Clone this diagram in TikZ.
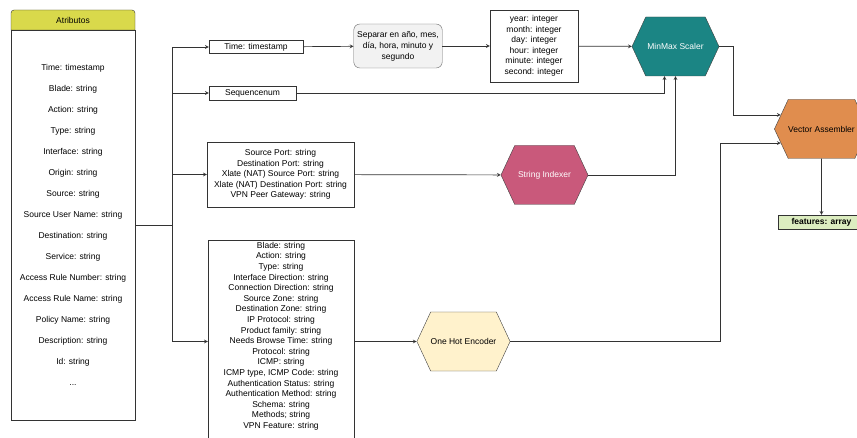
\documentclass[tikz,border=0pt]{standalone}
\usepackage{fontspec}
\setmainfont{Liberation Sans}
\usetikzlibrary{shapes.geometric, shapes.symbols, arrows}

\definecolor{headyellow}{HTML}{D9D94B}
\definecolor{minmaxteal}{HTML}{1B8584}
\definecolor{indexpink}{HTML}{C9597B}
\definecolor{onehotcream}{HTML}{FFF2CC}
\definecolor{assemblerorange}{HTML}{E08D4E}
\definecolor{featgreen}{HTML}{DCEDC0}

\tikzstyle{attrbox} = [rectangle, draw=black!80, minimum width=124pt, align=center, font=\fontsize{8.5}{21}\selectfont]
\tikzstyle{plainbox} = [rectangle, draw=black!80, align=center, inner sep=2pt, font=\fontsize{8.5}{10.5}\selectfont]
\tikzstyle{greybox} = [rectangle, rounded corners=6pt, draw=black!60, fill=black!5, align=center, font=\fontsize{8.5}{11}\selectfont]
\tikzstyle{hexa} = [signal, signal to=west and east, signal pointer angle=130, minimum width=87pt, minimum height=59pt, inner sep=0pt, draw=black!75, font=\fontsize{8.5}{10}\selectfont]
\tikzstyle{arrow} = [->,>=stealth, draw=black!80, line width=0.7pt]
\tikzstyle{line} = [draw=black!80, line width=0.7pt]

\begin{document}
\begin{tikzpicture}[x=1pt, y=-1pt, font=\fontsize{8.5}{10}\selectfont]
      \useasboundingbox (0,0) rectangle (857,438);

      % attribute list on the left
      \draw [fill=headyellow, draw=black!80] (11,30) [rounded corners=3pt] -- (11,10) -- (135,10) [sharp corners] -- (135,30) -- cycle;
      \node (attrhead) at (73,20) {Atributos};
      \node (attrs) [attrbox, minimum height=390pt] at (73,225) {Time: timestamp\\ Blade: string\\ Action: string\\ Type: string\\ Interface: string\\ Origin: string\\ Source: string\\ Source User Name: string\\ Destination: string\\ Service: string\\ Access Rule Number: string\\ Access Rule Name: string\\ Policy Name: string\\ Description: string\\ Id: string\\ ...};

      \node (time) [plainbox, minimum width=94pt, minimum height=13pt] at (256,47) {Time: timestamp};
      \node (seq) [plainbox, minimum width=87pt, minimum height=14pt] at (252.5,93) {Sequencenum};
      \node (ports) [plainbox, minimum width=147pt, minimum height=65pt] at (280.5,174.5) {Source Port: string\\ Destination Port: string\\ Xlate (NAT) Source Port: string\\ Xlate (NAT) Destination Port: string\\ VPN Peer Gateway: string};
      \node (onehotlist) [plainbox, minimum width=146pt, anchor=north, font=\fontsize{8.5}{10.6}\selectfont] at (281,240) {Blade: string\\ Action: string\\ Type: string\\ Interface Direction: string\\ Connection Direction: string\\ Source Zone: string\\ Destination Zone: string\\ IP Protocol: string\\ Product family: string\\ Needs Browse Time: string\\ Protocol: string\\ ICMP: string\\ ICMP type, ICMP Code: string\\ Authentication Status: string\\ Authentication Method: string\\ Schema: string\\ Methods; string\\ VPN Feature: string\\ ~\\ ~};

      \node (splitdate) [greybox, minimum width=88pt, minimum height=44pt] at (398,46) {Separar en año, mes,\\ día, hora, minuto y\\ segundo};
      \node (dateparts) [plainbox, minimum width=88pt, minimum height=72pt] at (534,46) {year: integer\\ month: integer\\ day: integer\\ hour: integer\\ minute: integer\\ second: integer};

      \node (minmax) [hexa, fill=minmaxteal, text=white] at (675.5,46.5) {MinMax Scaler};
      \node (stridx) [hexa, fill=indexpink, text=white] at (544.5,175) {String Indexer};
      \node (onehot) [hexa, fill=onehotcream] at (463.5,341.5) {One Hot Encoder};
      \node (vecasm) [hexa, fill=assemblerorange] at (821.5,129) {Vector Assembler};
      \node (featbox) [plainbox, fill=featgreen, minimum width=87pt, minimum height=14pt, font=\fontsize{8.5}{10}\selectfont\bfseries] at (821.5,222) {features: array};

      \coordinate (fork) at (172,225);
      \coordinate (mmout) at (733,0);
      \coordinate (ohup) at (720,0);

      \draw [line] (attrs.east) -- (fork);
      \draw [arrow] (fork) |- (time);
      \draw [arrow] (fork) |- (seq);
      \draw [arrow] (fork) |- (ports);
      \draw [arrow] (fork) |- (onehotlist.west |- onehot);

      \draw [arrow] (time) -- (splitdate);
      \draw [arrow] (splitdate) -- (dateparts);
      \draw [arrow] (dateparts) -- (minmax);
      \draw [arrow] (seq) -| ([xshift=-11pt]minmax.south);
      \draw [arrow] (ports) -- (stridx);
      \draw [arrow] (stridx) -| (minmax);
      \draw [arrow] (onehotlist.east |- onehot) -- (onehot);

      \draw [arrow] (minmax) -| (mmout |- vecasm.161) -- (vecasm.161);
      \draw [arrow] (onehot) -| (ohup |- vecasm.199) -- (vecasm.199);
      \draw [arrow] (vecasm) -- (featbox);
    \end{tikzpicture}
\end{document}
